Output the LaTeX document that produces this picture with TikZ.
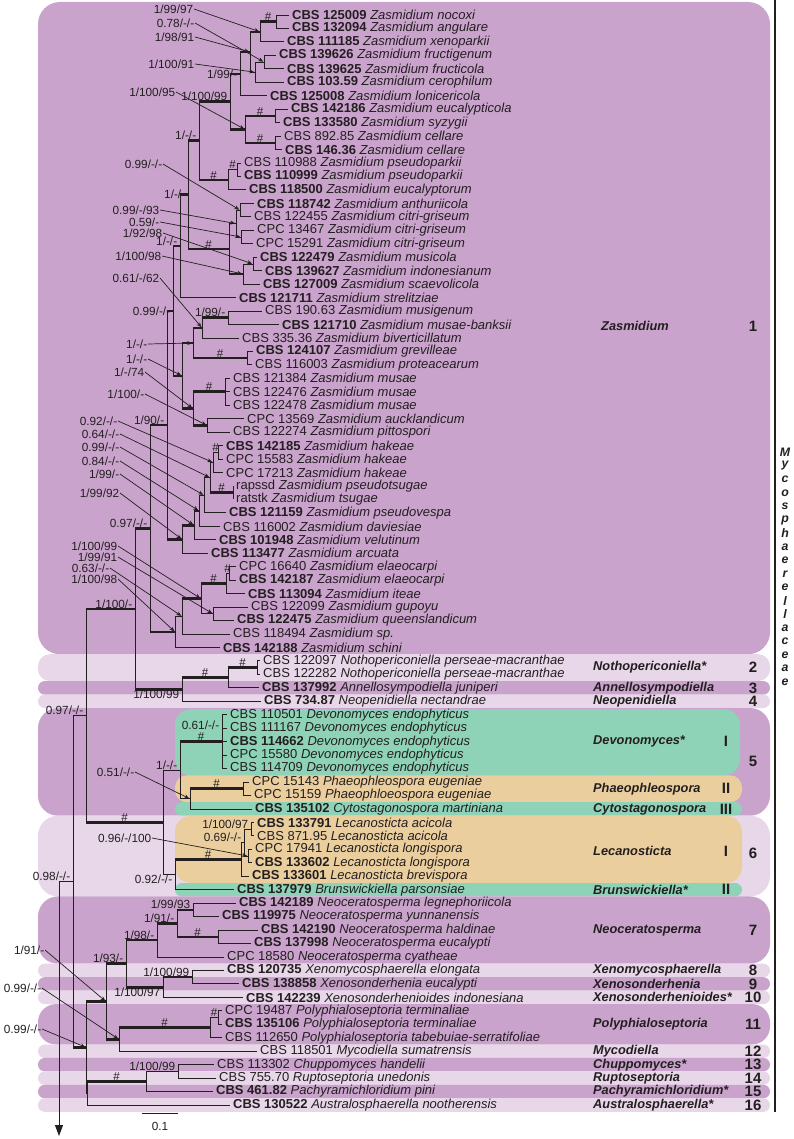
\documentclass[tikz,border=0pt]{standalone}
\usepackage{fontspec}
\setmainfont{Liberation Sans}
\usetikzlibrary{calc,arrows.meta}
\definecolor{dpur}{HTML}{C9A3CC}
\definecolor{lpur}{HTML}{E7D7E8}
\definecolor{grn}{HTML}{8ED3B7}
\definecolor{org}{HTML}{EBCE9E}
\definecolor{ink}{HTML}{231F20}
\newcommand\leafy[1]{-(15+(#1-1)*13.457)}
\newcommand\lfb[4]{\coordinate (L#1) at ({#2-3},{\leafy{#1}});\node[leaf] (T#1) at (#2,{\leafy{#1}}) {\textbf{#3} \textit{#4}};}
\newcommand\lfn[4]{\coordinate (L#1) at ({#2-3},{\leafy{#1}});\node[leaf] (T#1) at (#2,{\leafy{#1}}) {#3 \textit{#4}};}
\newcommand\nd[4]{\path let \p1=(#3), \p2=(#4) in coordinate (#1) at (#2pt,{0.5*(\y1+\y2)});}
\newcommand\br[2]{\draw[brl] (#1) |- (#2);}
\newcommand\bb[2]{\draw[brl] (#1) -- (#1 |- #2);\draw[brt] (#1 |- #2) -- (#2);}
\newcommand\hs[3]{\path let \p1=(#2), \p2=(#3) in node[hash] (#1) at ({0.5*(\x1+\x2)},\y2) {\#};}
\newcommand\sa[5]{\node[sup,anchor=east] (#1) at (#2,{-#3}) {#4};\draw[sarr] (#1.east) -- (#5);}
\newcommand\si[4]{\node[sup,anchor=#4] (#1) at ([xshift=-2pt]#2) {#3};}
\newcommand\band[6]{\fill[#1,rounded corners=#6pt] (#2,{-#3}) rectangle (#4,{-#5});}
\tikzset{
 leaf/.style={anchor=west,inner sep=0pt,font=\fontsize{13}{14}\selectfont,text=ink},
 sup/.style={inner sep=0.6pt,font=\fontsize{11.8}{13}\selectfont,text=ink},
 hash/.style={anchor=south,inner sep=0.6pt,font=\fontsize{11.5}{12}\selectfont,text=ink},
 brl/.style={draw=ink,line width=0.9pt},
 brt/.style={draw=ink,line width=2.6pt},
 sarr/.style={draw=ink,line width=0.7pt,-{Stealth[length=5pt,width=4pt]},shorten >=0.8pt},
 gen/.style={anchor=west,inner sep=0pt,font=\bfseries\itshape\fontsize{12.8}{14}\selectfont,text=ink},
 num/.style={inner sep=0pt,font=\bfseries\fontsize{15}{17}\selectfont,text=ink},
 fam/.style={inner sep=0pt,font=\bfseries\itshape\fontsize{12.3}{13}\selectfont,text=ink},
}
\begin{document}
\begin{tikzpicture}[x=1pt,y=1pt]
\useasboundingbox (0,0) rectangle (794,-1139);
\fill[white] (0,0) rectangle (794,-1139);
% ---------- background bands ----------
\band{dpur}{38}{2}{770}{654.2}{22}
\band{lpur}{38}{654.2}{770}{681.1}{12}
\band{dpur}{38}{681.1}{770}{694.6}{6.7}
\band{lpur}{38}{694.6}{770}{708.0}{6.7}
\band{dpur}{38}{708.0}{770}{815.7}{20}
\band{grn}{175}{709}{740}{775.3}{16}
\band{org}{175}{775.3}{742}{802.2}{12}
\band{grn}{175}{802.2}{742}{815.7}{6.7}
\band{lpur}{38}{815.7}{770}{896.4}{20}
\band{org}{175}{815.7}{742}{883.0}{16}
\band{grn}{175}{883.0}{742}{896.4}{6.7}
\band{dpur}{38}{896.4}{770}{963.7}{20}
\band{lpur}{38}{963.7}{770}{977.2}{6.7}
\band{dpur}{38}{977.2}{770}{990.6}{6.7}
\band{lpur}{38}{990.6}{770}{1004.1}{6.7}
\band{dpur}{38}{1004.1}{770}{1044.5}{18}
\band{lpur}{38}{1044.5}{770}{1057.9}{6.7}
\band{dpur}{38}{1057.9}{770}{1071.4}{6.7}
\band{lpur}{38}{1071.4}{770}{1084.8}{6.7}
\band{dpur}{38}{1084.8}{770}{1098.3}{6.7}
\band{lpur}{38}{1098.3}{770}{1111.8}{6.7}
% ---------- leaves ----------
\lfb{1}{292}{CBS 125009}{Zasmidium nocoxi}
\lfb{2}{292}{CBS 132094}{Zasmidium angulare}
\lfb{3}{287}{CBS 111185}{Zasmidium xenoparkii}
\lfb{4}{279}{CBS 139626}{Zasmidium fructigenum}
\lfb{5}{287}{CBS 139625}{Zasmidium fructicola}
\lfb{6}{287}{CBS 103.59}{Zasmidium cerophilum}
\lfb{7}{270}{CBS 125008}{Zasmidium lonicericola}
\lfb{8}{291}{CBS 142186}{Zasmidium eucalypticola}
\lfb{9}{283}{CBS 133580}{Zasmidium syzygii}
\lfn{10}{284}{CBS 892.85}{Zasmidium cellare}
\lfb{11}{285}{CBS 146.36}{Zasmidium cellare}
\lfn{12}{244}{CBS 110988}{Zasmidium pseudoparkii}
\lfb{13}{244}{CBS 110999}{Zasmidium pseudoparkii}
\lfb{14}{249}{CBS 118500}{Zasmidium eucalyptorum}
\lfb{15}{257}{CBS 118742}{Zasmidium anthuriicola}
\lfn{16}{254}{CBS 122455}{Zasmidium citri-griseum}
\lfn{17}{257}{CPC 13467}{Zasmidium citri-griseum}
\lfn{18}{256}{CPC 15291}{Zasmidium citri-griseum}
\lfb{19}{260}{CBS 122479}{Zasmidium musicola}
\lfb{20}{265}{CBS 139627}{Zasmidium indonesianum}
\lfb{21}{263}{CBS 127009}{Zasmidium scaevolicola}
\lfb{22}{239}{CBS 121711}{Zasmidium strelitziae}
\lfn{23}{265}{CBS 190.63}{Zasmidium musigenum}
\lfb{24}{282}{CBS 121710}{Zasmidium musae-banksii}
\lfn{25}{242}{CBS 335.36}{Zasmidium biverticillatum}
\lfb{26}{256}{CBS 124107}{Zasmidium grevilleae}
\lfn{27}{255}{CBS 116003}{Zasmidium proteacearum}
\lfn{28}{233}{CBS 121384}{Zasmidium musae}
\lfn{29}{233}{CBS 122476}{Zasmidium musae}
\lfn{30}{233}{CBS 122478}{Zasmidium musae}
\lfn{31}{247}{CPC 13569}{Zasmidium aucklandicum}
\lfn{32}{233}{CBS 122274}{Zasmidium pittospori}
\lfb{33}{226}{CBS 142185}{Zasmidium hakeae}
\lfn{34}{226}{CPC 15583}{Zasmidium hakeae}
\lfn{35}{226}{CPC 17213}{Zasmidium hakeae}
\lfn{36}{236}{rapssd}{Zasmidium pseudotsugae}
\lfn{37}{236}{ratstk}{Zasmidium tsugae}
\lfb{38}{229}{CBS 121159}{Zasmidium pseudovespa}
\lfn{39}{223}{CBS 116002}{Zasmidium daviesiae}
\lfb{40}{219}{CBS 101948}{Zasmidium velutinum}
\lfb{41}{211}{CBS 113477}{Zasmidium arcuata}
\lfn{42}{239}{CPC 16640}{Zasmidium elaeocarpi}
\lfb{43}{239}{CBS 142187}{Zasmidium elaeocarpi}
\lfb{44}{248}{CBS 113094}{Zasmidium iteae}
\lfn{45}{251}{CBS 122099}{Zasmidium gupoyu}
\lfb{46}{237}{CBS 122475}{Zasmidium queenslandicum}
\lfn{47}{233}{CBS 118494}{Zasmidium sp.}
\lfb{48}{223}{CBS 142188}{Zasmidium schini}
\lfn{49}{263}{CBS 122097}{Nothopericoniella perseae-macranthae}
\lfn{50}{263}{CBS 122282}{Nothopericoniella perseae-macranthae}
\lfb{51}{262}{CBS 137992}{Annellosympodiella juniperi}
\lfb{52}{264}{CBS 734.87}{Neopenidiella nectandrae}
\lfn{53}{230}{CBS 110501}{Devonomyces endophyticus}
\lfn{54}{230}{CBS 111167}{Devonomyces endophyticus}
\lfb{55}{230}{CBS 114662}{Devonomyces endophyticus}
\lfn{56}{230}{CPC 15580}{Devonomyces endophyticus}
\lfn{57}{230}{CBS 114709}{Devonomyces endophyticus}
\lfn{58}{252}{CPC 15143}{Phaeophleospora eugeniae}
\lfn{59}{254}{CPC 15159}{Phaeophloeospora eugeniae}
\lfb{60}{255}{CBS 135102}{Cytostagonospora martiniana}
\lfb{61}{257}{CBS 133791}{Lecanosticta acicola}
\lfn{62}{257}{CBS 871.95}{Lecanosticta acicola}
\lfn{63}{255}{CPC 17941}{Lecanosticta longispora}
\lfb{64}{255}{CBS 133602}{Lecanosticta longispora}
\lfb{65}{252}{CBS 133601}{Lecanosticta brevispora}
\lfb{66}{237}{CBS 137979}{Brunswickiella parsonsiae}
\lfb{67}{239}{CBS 142189}{Neoceratosperma legnephoriicola}
\lfb{68}{222}{CBS 119975}{Neoceratosperma yunnanensis}
\lfb{69}{261}{CBS 142190}{Neoceratosperma haldinae}
\lfb{70}{254}{CBS 137998}{Neoceratosperma eucalypti}
\lfn{71}{227}{CPC 18580}{Neoceratosperma cyatheae}
\lfb{72}{227}{CBS 120735}{Xenomycosphaerella elongata}
\lfb{73}{242}{CBS 138858}{Xenosonderhenia eucalypti}
\lfb{74}{246}{CBS 142239}{Xenosonderhenioides indonesiana}
\lfn{75}{225}{CPC 19487}{Polyphialoseptoria terminaliae}
\lfb{76}{225}{CBS 135106}{Polyphialoseptoria terminaliae}
\lfn{77}{225}{CBS 112650}{Polyphialoseptoria tabebuiae-serratifoliae}
\lfn{78}{260}{CBS 118501}{Mycodiella sumatrensis}
\lfn{79}{217}{CBS 113302}{Chuppomyces handelii}
\lfn{80}{219}{CBS 755.70}{Ruptoseptoria unedonis}
\lfb{81}{216}{CBS 461.82}{Pachyramichloridium pini}
\lfb{82}{233}{CBS 130522}{Australosphaerella nootherensis}
% ---------- internal nodes ----------
\nd{N1}{276}{L1}{L2}
\nd{N2}{260}{N1}{L3}
\nd{N3}{264}{L4}{L5}
\nd{N4}{255}{N3}{L6}
\nd{N5}{250}{N2}{N4}
\nd{N6}{240}{N5}{L7}
\nd{N7a}{275}{L8}{L9}
\nd{N8}{275}{L10}{L11}
\nd{N9}{245}{N7a}{N8}
\nd{N7}{230}{N6}{N9}
\nd{N10a}{237}{L12}{L13}
\nd{N10}{228}{N10a}{L14}
\nd{N11}{199}{N7}{N10}
\nd{N12}{240}{L15}{L16}
\nd{N13}{241}{L17}{L18}
\nd{N14}{236}{N12}{N13}
\nd{N15a}{253}{L19}{L20}
\nd{N15}{243}{N15a}{L21}
\nd{N16}{229}{N14}{N15}
\nd{N17}{188}{N11}{N16}
\nd{N18}{180}{N17}{L22}
\nd{N19}{228}{L23}{L24}
\nd{N20}{202}{N19}{L25}
\nd{N21}{247}{L26}{L27}
\nd{N22}{193}{N20}{N21}
\nd{N23}{225}{L28}{L30}
\nd{N24}{207}{L31}{L32}
\nd{N25}{193}{N23}{N24}
\nd{N26}{182}{N22}{N25}
\nd{N27}{173}{N18}{N26}
\nd{N28}{218}{L33}{L34}
\nd{N29}{213}{N28}{L35}
\nd{N30}{233}{L36}{L37}
\nd{N31}{210}{N29}{N30}
\nd{N32}{204}{N31}{L38}
\nd{N33}{199}{N32}{L39}
\nd{N34}{194}{N33}{L40}
\nd{N35}{182}{N34}{L41}
\nd{N36}{167}{N27}{N35}
\nd{N38}{229}{L42}{L43}
\nd{N39}{226}{N38}{L44}
\nd{N40}{213}{L45}{L46}
\nd{N41}{201}{N39}{N40}
\nd{N42}{182}{N41}{L47}
\nd{N43}{175}{N42}{L48}
\nd{N37}{150}{N36}{N43}
\nd{N44}{257}{L49}{L50}
\nd{N45}{228}{N44}{L51}
\nd{N46}{182}{N45}{L52}
\nd{N47}{135}{N37}{N46}
\nd{N50}{222}{L53}{L57}
\nd{N51}{243}{L58}{L59}
\nd{N52}{190}{N51}{L60}
\nd{N53}{180}{N50}{N52}
\nd{N54}{251}{L61}{L62}
\nd{N56}{248}{L63}{L64}
\nd{N55}{244}{N54}{N56}
\nd{N57}{241}{N55}{L65}
\nd{N58}{175}{N57}{L66}
\nd{N49}{163}{N53}{N58}
\nd{N48}{86}{N47}{N49}
\nd{N59}{193}{L67}{L68}
\nd{N60}{218}{L69}{L70}
\nd{N61}{177}{N59}{N60}
\nd{N62}{157}{N61}{L71}
\nd{N64}{192}{L72}{L73}
\nd{N65}{163}{N64}{L74}
\nd{N63}{126}{N62}{N65}
\nd{N66}{218}{L75}{L76}
\nd{N67}{210}{N66}{L77}
\nd{N68}{119}{N67}{L78}
\nd{N69}{106}{N63}{N68}
\nd{N70}{178}{L79}{L80}
\nd{N71}{146}{N70}{L81}
\nd{N72}{87}{N71}{L82}
\nd{N73}{86}{N69}{N72}
\nd{N74}{73}{N48}{N73}
\path let \p1=(N74) in coordinate (R) at (59pt,\y1);
\coordinate (Rend) at (59,-1136);
% ---------- branches ----------
\br{N1}{L1}\br{N1}{L2}
\bb{N2}{N1}\br{N2}{L3}
\br{N3}{L4}\br{N3}{L5}
\br{N4}{N3}\br{N4}{L6}
\bb{N5}{N2}\br{N5}{N4}
\bb{N6}{N5}\br{N6}{L7}
\br{N7a}{L8}\br{N7a}{L9}
\br{N8}{L10}\br{N8}{L11}
\bb{N9}{N7a}\bb{N9}{N8}
\bb{N7}{N6}\bb{N7}{N9}
\br{N10a}{L12}\br{N10a}{L13}
\br{N10}{N10a}\br{N10}{L14}
\bb{N11}{N7}\bb{N11}{N10}
\br{N12}{L15}\br{N12}{L16}
\br{N13}{L17}\br{N13}{L18}
\br{N14}{N12}\br{N14}{N13}
\br{N15a}{L19}\br{N15a}{L20}
\br{N15}{N15a}\br{N15}{L21}
\br{N16}{N14}\bb{N16}{N15}
\bb{N17}{N11}\bb{N17}{N16}
\bb{N18}{N17}\br{N18}{L22}
\br{N19}{L23}\br{N19}{L24}
\bb{N20}{N19}\br{N20}{L25}
\br{N21}{L26}\br{N21}{L27}
\bb{N22}{N20}\bb{N22}{N21}
\br{N23}{L28}\br{N23}{L29}\br{N23}{L30}
\br{N24}{L31}\br{N24}{L32}
\bb{N25}{N23}\bb{N25}{N24}
\bb{N26}{N22}\bb{N26}{N25}
\bb{N27}{N18}\bb{N27}{N26}
\br{N28}{L33}\br{N28}{L34}
\br{N29}{N28}\br{N29}{L35}
\br{N30}{L36}\br{N30}{L37}
\br{N31}{N29}\bb{N31}{N30}
\br{N32}{N31}\br{N32}{L38}
\br{N33}{N32}\br{N33}{L39}
\bb{N34}{N33}\br{N34}{L40}
\bb{N35}{N34}\br{N35}{L41}
\bb{N36}{N27}\bb{N36}{N35}
\br{N38}{L42}\br{N38}{L43}
\br{N39}{N38}\br{N39}{L44}
\br{N40}{L45}\br{N40}{L46}
\bb{N41}{N39}\br{N41}{N40}
\bb{N42}{N41}\br{N42}{L47}
\br{N43}{N42}\br{N43}{L48}
\bb{N37}{N36}\bb{N37}{N43}
\br{N44}{L49}\br{N44}{L50}
\bb{N45}{N44}\br{N45}{L51}
\bb{N46}{N45}\br{N46}{L52}
\bb{N47}{N37}\bb{N47}{N46}
\br{N50}{L53}\br{N50}{L54}\br{N50}{L55}\br{N50}{L56}\br{N50}{L57}
\br{N51}{L58}\br{N51}{L59}
\bb{N52}{N51}\br{N52}{L60}
\bb{N53}{N50}\br{N53}{N52}
\br{N54}{L61}\br{N54}{L62}
\br{N56}{L63}\br{N56}{L64}
\br{N55}{N54}\br{N55}{N56}
\br{N57}{N55}\br{N57}{L65}
\bb{N58}{N57}\br{N58}{L66}
\br{N49}{N53}\br{N49}{N58}
\bb{N48}{N47}\bb{N48}{N49}
\br{N59}{L67}\br{N59}{L68}
\br{N60}{L69}\br{N60}{L70}
\bb{N61}{N59}\bb{N61}{N60}
\bb{N62}{N61}\br{N62}{L71}
\br{N64}{L72}\br{N64}{L73}
\bb{N65}{N64}\br{N65}{L74}
\bb{N63}{N62}\bb{N63}{N65}
\br{N66}{L75}\br{N66}{L76}
\br{N67}{N66}\br{N67}{L77}
\bb{N68}{N67}\br{N68}{L78}
\bb{N69}{N63}\bb{N69}{N68}
\br{N70}{L79}\br{N70}{L80}
\br{N71}{N70}\br{N71}{L81}
\bb{N72}{N71}\br{N72}{L82}
\bb{N73}{N69}\br{N73}{N72}
\br{N74}{N48}\bb{N74}{N73}
\br{R}{N74}
\draw[brl,-{Triangle[length=11pt,width=8pt]}] (R) -- (Rend);
% ---------- # marks ----------
\hs{H1}{N2}{N1}\hs{H2}{N9}{N7a}\hs{H3}{N9}{N8}\hs{H4}{N10}{N10a}
\hs{H5}{N11}{N10}\hs{H6}{N17}{N16}\hs{H7}{N22}{N21}\hs{H8}{N25}{N23}
\hs{H9}{N29}{N28}\hs{H10}{N31}{N30}\hs{H11}{N39}{N38}\hs{H12}{N41}{N39}
\hs{H13}{N45}{N44}\hs{H14}{N46}{N45}\hs{H15}{N48}{N49}\hs{H16}{N53}{N50}
\hs{H17}{N52}{N51}\hs{H18}{N58}{N57}\hs{H19}{N61}{N60}\hs{H20}{N67}{N66}
\hs{H21}{N68}{N67}\hs{H22}{N72}{N71}
% ---------- support labels with arrows ----------
\sa{Sa1}{194}{9}{1/99/97}{N2}
\sa{Sa2}{195}{23}{0.78/-/-}{N3}
\sa{Sa3}{195}{37}{1/98/91}{N5}
\sa{Sa4}{195}{64}{1/100/91}{N4}
\sa{Sa5}{176}{92}{1/100/95}{N9}
\sa{Sa6}{163}{164}{0.99/-/-}{N12}
\sa{Sa7}{160}{210}{0.99/-/93}{N14}
\sa{Sa8}{160}{222}{0.59/-}{N13}
\sa{Sa9}{163}{233}{1/92/98}{N15a}
\sa{Sa10}{162}{256}{1/100/98}{N15}
\sa{Sa11}{160}{278}{0.61/-/62}{N20}
\sa{Sa12}{148}{344}{1/-/-}{N22}
\sa{Sa13}{148}{359}{1/-/-}{N26}
\sa{Sa14}{145}{372}{1/-/74}{N25}
\sa{Sa15}{145}{394}{1/100/-}{N24}
\sa{Sa16}{118}{421}{0.92/-/-}{N29}
\sa{Sa17}{120}{434}{0.64/-/-}{N31}
\sa{Sa18}{120}{447}{0.99/-/-}{N32}
\sa{Sa19}{120}{461}{0.84/-/-}{N33}
\sa{Sa20}{120}{474}{1/99/-}{N34}
\sa{Sa21}{120}{493}{1/99/92}{N35}
\sa{Sa22}{118}{546}{1/100/99}{N41}
\sa{Sa23}{118}{557}{1/99/91}{N40}
\sa{Sa24}{110}{568}{0.63/-/-}{N42}
\sa{Sa25}{118}{579}{1/100/98}{N43}
\sa{Sa26}{135}{772}{0.51/-/-}{N52}
\sa{Sa27}{152}{838}{0.96/-/100}{N56}
\sa{Sa28}{45}{950}{1/91/-}{N69}
\sa{Sa29}{42}{988}{0.99/-/-}{N68}
\sa{Sa30}{42}{1029}{0.99/-/-}{N73}
% ---------- inline support labels ----------
\si{Si1}{N6}{1/99/-}{east}
\si{Si2}{N7}{1/100/99}{south east}
\si{Si3}{N11}{1/-/-}{south east}
\si{Si4}{N17}{1/-/-}{east}
\si{Si5}{N18}{1/-/-}{south east}
\si{Si6}{N19}{1/99/-}{south east}
\si{Si7}{N27}{0.99/-/-}{east}
\si{Si8}{N36}{1/90/-}{south east}
\si{Si9}{N37}{0.97/-/-}{south east}
\si{Si10}{N47}{1/100/-}{south east}
\si{Si11}{N46}{1/100/99}{north east}
\si{Si12}{N48}{0.97/-/-}{south east}
\node[sup,anchor=east] (Si13) at (220,-725) {0.61/-/-};
\si{Si14}{N53}{1/-/-}{south east}
\si{Si15}{N54}{1/100/97}{south east}
\si{Si16}{N55}{0.69/-/-}{south east}
\si{Si17}{N58}{0.92/-/-}{north east}
\si{Si18}{N74}{0.98/-/-}{south east}
\si{Si19}{N59}{1/99/93}{south east}
\si{Si20}{N61}{1/91/-}{south east}
\si{Si21}{N62}{1/98/-}{south east}
\si{Si22}{N63}{1/93/-}{south east}
\si{Si23}{N64}{1/100/99}{south east}
\si{Si24}{N65}{1/100/97}{north east}
\si{Si25}{N70}{1/100/99}{south east}
% ---------- clade labels ----------
\node[gen] (g1) at (601,-326) {Zasmidium};
\node[gen] (g2) at (593,-667.6) {Nothopericoniella*};
\node[gen] (g3) at (593,-687.9) {Annellosympodiella};
\node[gen] (g4) at (593,-701.3) {Neopenidiella};
\node[gen] (g5) at (593,-741.7) {Devonomyces*};
\node[gen] (g5b) at (593,-788.8) {Phaeophleospora};
\node[gen] (g5c) at (593,-809) {Cytostagonospora};
\node[gen] (g6) at (593,-851) {Lecanosticta};
\node[gen] (g6b) at (593,-889.7) {Brunswickiella*};
\node[gen] (g7) at (593,-930) {Neoceratosperma};
\node[gen] (g8) at (593,-970.5) {Xenomycosphaerella};
\node[gen] (g9) at (593,-983.9) {Xenosonderhenia};
\node[gen] (g10) at (593,-997.4) {Xenosonderhenioides*};
\node[gen] (g11) at (593,-1024.3) {Polyphialoseptoria};
\node[gen] (g12) at (593,-1051.2) {Mycodiella};
\node[gen] (g13) at (593,-1064.7) {Chuppomyces*};
\node[gen] (g14) at (593,-1078.1) {Ruptoseptoria};
\node[gen] (g15) at (593,-1091.6) {Pachyramichloridium*};
\node[gen] (g16) at (593,-1105) {Australosphaerella*};
\node[num] (r5a) at (726,-741.7) {I};
\node[num] (r5b) at (726,-788.8) {II};
\node[num] (r5c) at (726,-809) {III};
\node[num] (r6a) at (726,-851) {I};
\node[num] (r6b) at (726,-889.7) {II};
\node[num] (c1) at (753,-326) {1};
\node[num] (c2) at (753,-667.6) {2};
\node[num] (c3) at (753,-687.9) {3};
\node[num] (c4) at (753,-701.3) {4};
\node[num] (c5) at (753,-761.9) {5};
\node[num] (c6) at (753,-853) {6};
\node[num] (c7) at (753,-930) {7};
\node[num] (c8) at (753,-970.5) {8};
\node[num] (c9) at (753,-983.9) {9};
\node[num] (c10) at (753,-997.4) {10};
\node[num] (c11) at (753,-1024.3) {11};
\node[num] (c12) at (753,-1051.2) {12};
\node[num] (c13) at (753,-1064.7) {13};
\node[num] (c14) at (753,-1078.1) {14};
\node[num] (c15) at (753,-1091.6) {15};
\node[num] (c16) at (753,-1105) {16};
% ---------- family bar ----------
\draw[ink,line width=2.4pt] (775,0) -- (775,-1112);
\foreach \c [count=\k from 0] in {M,y,c,o,s,p,h,a,e,r,e,l,l,a,c,e,a,e}
  \node[fam] (m\k) at (785,{-(452.5+\k*13.5)}) {\c};
% ---------- scale bar ----------
\draw[brl] (142,-1113) -- (178,-1113);
\node[sup] (sc) at (160,-1126) {0.1};
\end{tikzpicture}
\end{document}
